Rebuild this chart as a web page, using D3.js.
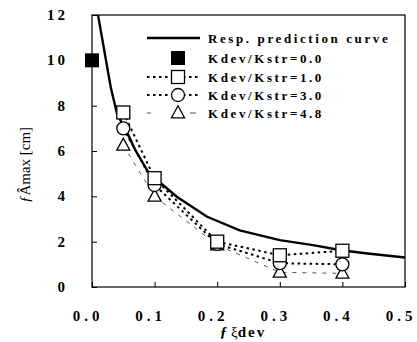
<!DOCTYPE html>
<html>
<head>
<meta charset="utf-8">
<script src="https://cdn.jsdelivr.net/npm/d3@7"></script>
<style>
  body { margin: 0; background: #fff; }
  svg { display: block; }
  text { font-family: "Liberation Serif", "DejaVu Serif", serif; fill: #000; }
</style>
</head>
<body>
<div id="chart"></div>
<script>
// curve and measured points
const curveX = [0.0096, 0.03, 0.04, 0.058, 0.069, 0.088, 0.109, 0.136, 0.184, 0.236, 0.30, 0.353, 0.396, 0.433, 0.50];
const curveY = [12.0, 8.8, 7.65, 6.7, 6.05, 5.15, 4.6, 3.97, 3.1, 2.5, 2.07, 1.85, 1.63, 1.5, 1.3];

const devX = [0.05, 0.1, 0.2, 0.3, 0.4];
const k10 = [7.7, 4.8, 2.0, 1.4, 1.6];
const k30 = [7.0, 4.5, 1.9, 1.05, 1.0];
const k48 = [6.25, 4.0, 1.85, 0.65, 0.6];
const k00x = [0.0];
const k00 = [10.0];

const xTicks = [0.0, 0.1, 0.2, 0.3, 0.4, 0.5];
const yTicks = [0, 2, 4, 6, 8, 10, 12];
const legendLabels = ["Resp. prediction curve", "Kdev/Kstr=0.0", "Kdev/Kstr=1.0", "Kdev/Kstr=3.0", "Kdev/Kstr=4.8"];

function createChart() {
    const width = 417, height = 342;
    const margin = { top: 15, right: 12, bottom: 55, left: 92 };

    const svg = d3.select("#chart").append("svg")
        .attr("width", width)
        .attr("height", height);

    const x = d3.scaleLinear().domain([0, 0.5]).range([margin.left, width - margin.right]);
    const y = d3.scaleLinear().domain([0, 12]).range([height - margin.bottom, margin.top]);

    // clip so the curve stops at the frame
    svg.append("clipPath").attr("id", "plot")
        .append("rect")
        .attr("x", margin.left).attr("y", margin.top)
        .attr("width", x(0.5) - x(0)).attr("height", y(0) - y(12));

    // ticks (inside)
    svg.append("g")
        .attr("transform", `translate(0,${y(0)})`)
        .call(d3.axisTop(x).tickValues(xTicks).tickSize(5).tickFormat(""))
        .call(g => g.select(".domain").remove());
    svg.append("g")
        .attr("transform", `translate(${x(0)},0)`)
        .call(d3.axisRight(y).tickValues(yTicks).tickSize(5).tickFormat(""))
        .call(g => g.select(".domain").remove());

    // frame
    svg.append("rect")
        .attr("x", x(0)).attr("y", y(12))
        .attr("width", x(0.5) - x(0)).attr("height", y(0) - y(12))
        .attr("fill", "none").attr("stroke", "#000").attr("stroke-width", 1.2);

    // tick labels
    svg.append("g").selectAll("text").data(xTicks).enter().append("text")
        .attr("x", d => x(d) - 4)
        .attr("y", 321)
        .attr("text-anchor", "middle")
        .attr("font-size", 15).attr("font-weight", "bold")
        .attr("letter-spacing", 4)
        .text(d => d.toFixed(1));
    svg.append("g").selectAll("text").data(yTicks).enter().append("text")
        .attr("x", 68)
        .attr("y", d => y(d) + 5)
        .attr("text-anchor", "end")
        .attr("font-size", 15).attr("font-weight", "bold")
        .attr("letter-spacing", 3)
        .text(d => d);

    // axis titles
    const yt = svg.append("text")
        .attr("transform", `translate(30,165) rotate(-90)`)
        .attr("text-anchor", "middle")
        .attr("font-size", 15);
    yt.append("tspan").attr("font-style", "italic").text("ƒ");
    yt.append("tspan").text("Âmax [cm]");

    const xt = svg.append("text")
        .attr("x", 243).attr("y", 337)
        .attr("text-anchor", "middle")
        .attr("font-size", 15);
    xt.append("tspan").attr("font-style", "italic").attr("font-weight", "bold").text("ƒ ");
    xt.append("tspan").text("ξ");
    xt.append("tspan").attr("font-weight", "bold").attr("letter-spacing", 2).text("dev");

    const plot = svg.append("g").attr("clip-path", "url(#plot)");

    const line = d3.line().x(d => x(d[0])).y(d => y(d[1]));

    // series lines
    plot.append("path")
        .datum(devX.map((v, i) => [v, k48[i]]))
        .attr("d", line).attr("fill", "none")
        .attr("stroke", "#555").attr("stroke-width", 1).attr("stroke-dasharray", "4,6");
    plot.append("path")
        .datum(devX.map((v, i) => [v, k30[i]]))
        .attr("d", line).attr("fill", "none")
        .attr("stroke", "#000").attr("stroke-width", 2).attr("stroke-dasharray", "2.5,3.5");
    plot.append("path")
        .datum(devX.map((v, i) => [v, k10[i]]))
        .attr("d", line).attr("fill", "none")
        .attr("stroke", "#000").attr("stroke-width", 2).attr("stroke-dasharray", "2.5,3.5");

    // prediction curve
    plot.append("path")
        .datum(curveX.map((v, i) => [v, curveY[i]]))
        .attr("d", line).attr("fill", "none")
        .attr("stroke", "#000").attr("stroke-width", 2.4).attr("stroke-linejoin", "round");

    // markers
    const sq = 13;
    const tri = (cx, cy) => {
        const s = 13, h = 12;
        return `M${cx},${cy - h * 0.6}L${cx + s / 2},${cy + h * 0.4}L${cx - s / 2},${cy + h * 0.4}Z`;
    };
    svg.append("g").selectAll("path").data(devX.map((v, i) => [v, k48[i]])).enter().append("path")
        .attr("d", d => tri(x(d[0]), y(d[1])))
        .attr("fill", "#fff").attr("stroke", "#000").attr("stroke-width", 1.3);
    svg.append("g").selectAll("circle").data(devX.map((v, i) => [v, k30[i]])).enter().append("circle")
        .attr("cx", d => x(d[0])).attr("cy", d => y(d[1])).attr("r", 6.5)
        .attr("fill", "#fff").attr("stroke", "#000").attr("stroke-width", 1.3);
    svg.append("g").selectAll("rect").data(devX.map((v, i) => [v, k10[i]])).enter().append("rect")
        .attr("x", d => x(d[0]) - sq / 2).attr("y", d => y(d[1]) - sq / 2)
        .attr("width", sq).attr("height", sq)
        .attr("fill", "#fff").attr("stroke", "#000").attr("stroke-width", 1.3);
    svg.append("g").selectAll("rect").data(k00x.map((v, i) => [v, k00[i]])).enter().append("rect")
        .attr("x", d => x(d[0]) - 7).attr("y", d => y(d[1]) - 7)
        .attr("width", 14).attr("height", 14)
        .attr("fill", "#000");

    // legend
    const lx0 = 147, lx1 = 200, mx = 178, tx = 208;
    const rows = [38, 58, 77, 95, 113];
    const leg = svg.append("g");
    leg.append("line").attr("x1", lx0).attr("x2", lx1).attr("y1", rows[0]).attr("y2", rows[0])
        .attr("stroke", "#000").attr("stroke-width", 2.4);
    leg.append("rect").attr("x", mx - 7).attr("y", rows[1] - 7).attr("width", 14).attr("height", 14).attr("fill", "#000");
    [2, 3].forEach(i => {
        leg.append("line").attr("x1", lx0).attr("x2", lx1).attr("y1", rows[i]).attr("y2", rows[i])
            .attr("stroke", "#000").attr("stroke-width", 2).attr("stroke-dasharray", "2.5,3.5");
    });
    leg.append("line").attr("x1", lx0).attr("x2", lx1).attr("y1", rows[4]).attr("y2", rows[4])
        .attr("stroke", "#555").attr("stroke-width", 1).attr("stroke-dasharray", "4,39,6");
    leg.append("rect").attr("x", mx - sq / 2).attr("y", rows[2] - sq / 2).attr("width", sq).attr("height", sq)
        .attr("fill", "#fff").attr("stroke", "#000").attr("stroke-width", 1.3);
    leg.append("circle").attr("cx", mx).attr("cy", rows[3]).attr("r", 6.5)
        .attr("fill", "#fff").attr("stroke", "#000").attr("stroke-width", 1.3);
    leg.append("path").attr("d", tri(mx, rows[4]))
        .attr("fill", "#fff").attr("stroke", "#000").attr("stroke-width", 1.3);
    leg.selectAll("text.lab").data(legendLabels).enter().append("text")
        .attr("class", "lab")
        .attr("x", tx).attr("y", (d, i) => rows[i] + 5)
        .attr("font-size", 13).attr("font-weight", "bold")
        .attr("letter-spacing", 2.6)
        .text(d => d);
}

createChart();
</script>
</body>
</html>
